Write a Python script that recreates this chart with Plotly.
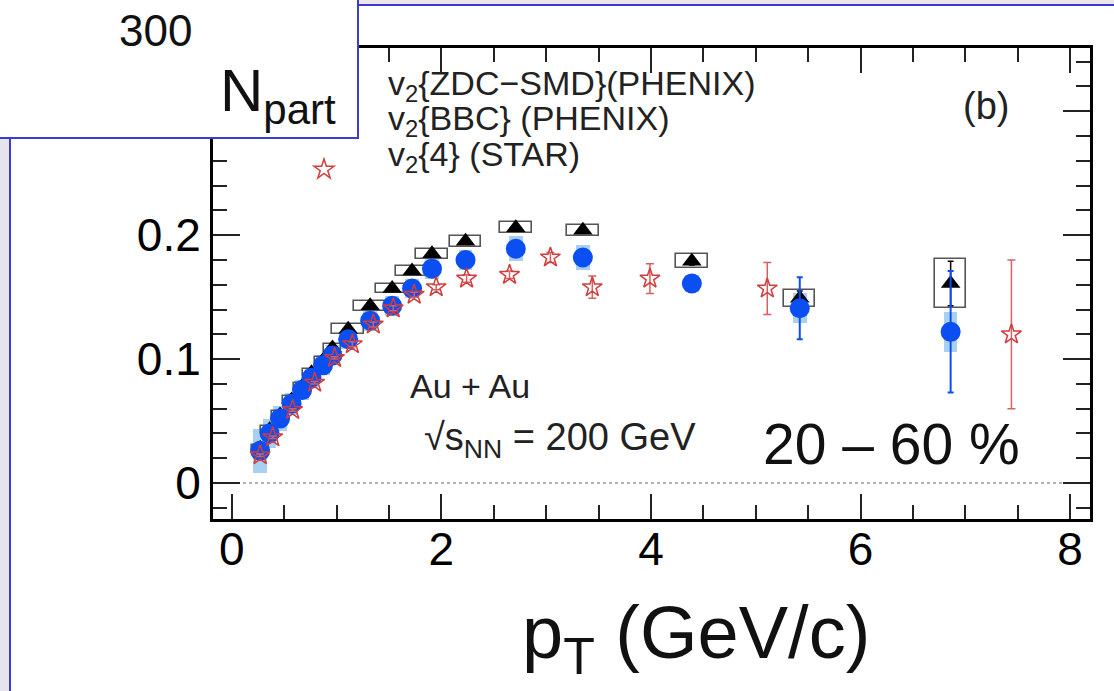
import plotly.graph_objects as go

# ---- data: elliptic flow v2 vs pT, Au+Au 200 GeV, 20-60% ----
pt_phenix = [0.27, 0.36, 0.46, 0.57, 0.67, 0.76, 0.87, 0.96, 1.11, 1.32,
             1.53, 1.72, 1.91, 2.23, 2.71, 3.35, 4.39, 5.42, 6.86]

v2_zdc = [0.028, 0.043, 0.055, 0.067, 0.078, 0.089, 0.099, 0.109, 0.124, 0.143,
          0.157, 0.171, 0.185, 0.195, 0.206, 0.204, 0.179, 0.149, 0.161]
v2_zdc_err = [0.001] * 16 + [0.003, 0.006, 0.018]
v2_zdc_sys = [0.003] * 8 + [0.004] * 5 + [0.0045, 0.0045, 0.0045, 0.0055, 0.007, 0.020]

v2_bbc = [0.026, 0.040, 0.052, 0.064, 0.075, 0.085, 0.095, 0.103, 0.116, 0.131,
          0.143, 0.157, 0.173, 0.180, 0.189, 0.182, 0.161, 0.141, 0.122]
v2_bbc_err = [0.001] * 16 + [0.005, 0.025, 0.049]
v2_bbc_sys = [0.018, 0.012, 0.010, 0.009, 0.008, 0.008, 0.008, 0.008, 0.008, 0.008,
              0.008, 0.008, 0.008, 0.008, 0.010, 0.010, 0.007, 0.012, 0.016]

pt_star = [0.27, 0.39, 0.58, 0.79, 0.98, 1.15, 1.35, 1.54, 1.74, 1.95,
           2.24, 2.65, 3.04, 3.44, 3.99, 5.11, 7.44]
v2_star = [0.0225, 0.037, 0.059, 0.081, 0.101, 0.112, 0.128, 0.141, 0.152, 0.158,
           0.165, 0.168, 0.182, 0.158, 0.165, 0.157, 0.120]
v2_star_err = [0.001, 0.001, 0.001, 0.001, 0.001, 0.002, 0.002, 0.002, 0.002, 0.002,
               0.003, 0.003, 0.004, 0.009, 0.012, 0.021, 0.060]

x_ticks = [0, 2, 4, 6, 8]
y_ticks = [0, 0.1, 0.2, 0.3]

# ---- page geometry (pixels) ----
W, H = 1114, 691
L, R, T, B = 213, 1090, 48, 519


def fx(p):
    return (p - L) / (R - L)


def fy(p):
    return (B - p) / (B - T)


FONT = "Liberation Sans, Arial, Helvetica, sans-serif"
BLUE = "#0b4ff2"
LIGHTBLUE = "#a9cff3"
RED = "#d23c3c"
FRAME_BLUE = "#3c3cd2"

fig = go.Figure()

# systematic boxes (narrower where the low-pT points crowd together)
fig.add_trace(go.Bar(
    x=pt_phenix, y=[2 * s for s in v2_bbc_sys],
    base=[v - s for v, s in zip(v2_bbc, v2_bbc_sys)],
    width=0.13, marker=dict(color=LIGHTBLUE, line=dict(width=0)),
    showlegend=False, hoverinfo="skip"))
fig.add_trace(go.Bar(
    x=pt_phenix, y=[2 * s for s in v2_zdc_sys],
    base=[v - s for v, s in zip(v2_zdc, v2_zdc_sys)],
    width=[0.3 if p > 1.0 else 0.16 for p in pt_phenix],
    marker=dict(color="rgba(0,0,0,0)", line=dict(color="#555555", width=1.6)),
    showlegend=False, hoverinfo="skip"))

# PHENIX v2{ZDC-SMD}
fig.add_trace(go.Scatter(
    x=pt_phenix, y=v2_zdc, mode="markers", name="v2{ZDC-SMD}(PHENIX)",
    marker=dict(symbol="triangle-up", size=17, color="black"),
    error_y=dict(type="data", array=v2_zdc_err, color="black", thickness=1.5, width=3),
    showlegend=False))

# PHENIX v2{BBC}
fig.add_trace(go.Scatter(
    x=pt_phenix, y=v2_bbc, mode="markers", name="v2{BBC} (PHENIX)",
    marker=dict(symbol="circle", size=20, color=BLUE),
    error_y=dict(type="data", array=v2_bbc_err, color=BLUE, thickness=2, width=3),
    showlegend=False))

# STAR v2{4}
fig.add_trace(go.Scatter(
    x=pt_star, y=v2_star, mode="markers", name="",
    marker=dict(symbol="star-open", size=15, color=RED, line=dict(color=RED, width=1.5)),
    error_y=dict(type="data", array=v2_star_err, color="#d66060", thickness=1.5, width=4),
    showlegend=True))

axis_common = dict(
    showline=True, linewidth=3, linecolor="black", mirror="allticks",
    ticks="inside", tickwidth=2, tickcolor="#222222",
    showgrid=False, zeroline=False,
    tickfont=dict(family=FONT, size=46, color="black"),
)

fig.update_xaxes(
    range=[-0.18, 8.19], tickvals=x_ticks, ticklen=25, ticklabelstandoff=-12,
    minor=dict(dtick=0.5, tick0=0, ticklen=14, tickwidth=2, tickcolor="#222222", ticks="inside"),
    **axis_common)
fig.update_yaxes(
    range=[-0.029, 0.351], tickvals=y_ticks, ticktext=["0", "0.1", "0.2", "0.3"], ticklen=27,
    minor=dict(dtick=0.02, tick0=0, ticklen=14, tickwidth=2, tickcolor="#222222", ticks="inside"),
    **axis_common)

shapes = [
    # dotted zero line
    dict(type="line", xref="paper", yref="y", x0=0, x1=1, y0=0, y1=0,
         line=dict(color="#9a9a9a", width=1.5, dash="dot"), layer="below"),
    # slide edges
    dict(type="rect", xref="paper", yref="paper", x0=fx(0), x1=fx(9), y0=fy(691), y1=fy(0),
         fillcolor="#e6e2ee", line=dict(width=0), layer="below"),
    dict(type="rect", xref="paper", yref="paper", x0=fx(0), x1=fx(1114), y0=fy(4), y1=fy(0),
         fillcolor="#ece7ef", line=dict(width=0), layer="below"),
    dict(type="line", xref="paper", yref="paper", x0=fx(10), x1=fx(10), y0=fy(691), y1=fy(5),
         line=dict(color=FRAME_BLUE, width=2), layer="below"),
    dict(type="line", xref="paper", yref="paper", x0=fx(10), x1=fx(1114), y0=fy(5), y1=fy(5),
         line=dict(color=FRAME_BLUE, width=2), layer="below"),
]

ann = []
# legend text
legend_rows = ["v<sub>2</sub>{ZDC\u2212SMD}(PHENIX)", "v<sub>2</sub>{BBC} (PHENIX)",
               "v<sub>2</sub>{4} (STAR)"]
for i, txt in enumerate(legend_rows):
    ann.append(dict(text=txt, xref="paper", yref="paper", x=fx(386), y=fy(85 + 36 * i),
                    xanchor="left", yanchor="middle", showarrow=False,
                    font=dict(family=FONT, size=34, color="#222222")))
ann += [
    dict(text="(b)", xref="paper", yref="paper", x=fx(986), y=fy(106), xanchor="center",
         yanchor="middle", showarrow=False, font=dict(family=FONT, size=38, color="#222222")),
    dict(text="Au + Au", xref="paper", yref="paper", x=fx(408), y=fy(386), xanchor="left",
         yanchor="middle", showarrow=False, font=dict(family=FONT, size=34, color="#222222")),
    dict(text="\u221as<sub>NN</sub> = 200 GeV", xref="paper", yref="paper", x=fx(422), y=fy(440),
         xanchor="left", yanchor="middle", showarrow=False,
         font=dict(family=FONT, size=38, color="#222222")),
    dict(text="20 \u2013 60 %", xref="paper", yref="paper", x=fx(891), y=fy(444),
         xanchor="center", yanchor="middle", showarrow=False,
         font=dict(family=FONT, size=57, color="#111111")),
    dict(text="p<sub>T</sub> (GeV/c)", xref="paper", yref="paper", x=fx(696), y=fy(638),
         xanchor="center", yanchor="middle", showarrow=False,
         font=dict(family=FONT, size=74, color="#111111")),
    # inset panel in the top-left corner
    dict(text="&nbsp;", xref="paper", yref="paper", x=fx(359), y=fy(139),
         xanchor="right", yanchor="bottom", showarrow=False, width=420, height=170,
         bgcolor="white", bordercolor=FRAME_BLUE, borderwidth=2, borderpad=0),
    dict(text="300", xref="paper", yref="paper", x=fx(155), y=fy(30), xanchor="center",
         yanchor="middle", showarrow=False, font=dict(family=FONT, size=44, color="#111111")),
    dict(text="N<sub>part</sub>", xref="paper", yref="paper", x=fx(218), y=fy(95),
         xanchor="left", yanchor="middle", showarrow=False,
         font=dict(family=FONT, size=60, color="#111111")),
]

fig.update_layout(
    width=W, height=H, autosize=False,
    margin=dict(l=L, r=W - R, t=T, b=H - B, pad=0),
    paper_bgcolor="white", plot_bgcolor="white",
    barmode="overlay", bargap=0,
    showlegend=True,
    legend=dict(x=fx(304), y=fy(150), xanchor="left", yanchor="top",
                bgcolor="rgba(0,0,0,0)", borderwidth=0,
                font=dict(family=FONT, size=20)),
    shapes=shapes, annotations=ann,
)

fig.write_html("out.html")
